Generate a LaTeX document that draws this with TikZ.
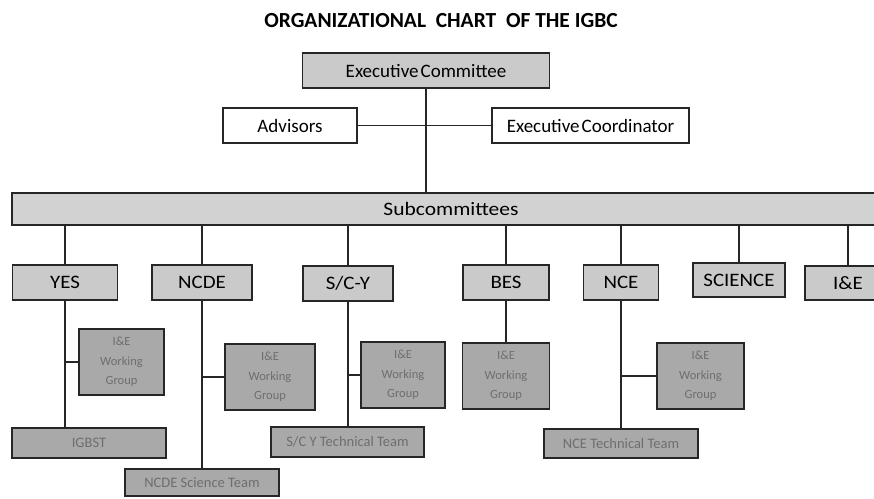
\documentclass[tikz,border=0pt]{standalone}
\usepackage{fontspec}
\setmainfont{Carlito}
\newfontfamily\wideA[FakeStretch=1.10]{Carlito}
\newfontfamily\wideB[FakeStretch=1.13]{Carlito}
\definecolor{ufill}{HTML}{CACACA}
\definecolor{sfill}{HTML}{D2D2D2}
\definecolor{lfill}{HTML}{A9A9A9}
\definecolor{ltext}{HTML}{6E6E6E}
\begin{document}
\begin{tikzpicture}[x=1pt,y=-1pt,
  ubox/.style={draw=black!85,line width=1.6pt,fill=ufill,inner sep=0pt,font=\wideA\fontsize{19}{21}\selectfont},
  wbox/.style={draw=black!85,line width=1.6pt,fill=white,inner sep=0pt,font=\fontsize{19}{21}\selectfont},
  lbox/.style={draw=black!85,line width=1.6pt,fill=lfill,inner sep=0pt,text=ltext,align=center,font=\fontsize{14.5}{18}\selectfont},
  wgbox/.style={lbox,font=\fontsize{12.5}{19.5}\selectfont},
  conn/.style={draw=black!85,line width=1.4pt}]
\useasboundingbox (0,0) rectangle (874,498);
\clip (0,0) rectangle (874,498);
\fill[white] (0,0) rectangle (874,498);
\node[font=\bfseries\fontsize{21.5}{23}\selectfont] (title) at (441,21) {ORGANIZATIONAL\ \ CHART\ \ OF THE IGBC};
\node[ubox,font=\fontsize{19}{21}\selectfont,minimum width=247pt,minimum height=35pt] (exec) at (426,70.5) {Executive\hspace{2pt}Committee};
\node[wbox,minimum width=134pt,minimum height=35pt] (adv) at (290,125.5) {Advisors};
\node[wbox,minimum width=197pt,minimum height=35pt] (coord) at (590.5,125.5) {Executive\hspace{2pt}Coordinator};
\node[ubox,fill=sfill,font=\wideB\fontsize{19}{21}\selectfont,minimum width=878pt,minimum height=32pt] (sub) at (451,209) {Subcommittees};
\node[ubox,minimum width=105pt,minimum height=35pt] (yes) at (65,282.5) {YES};
\node[ubox,minimum width=100pt,minimum height=35pt] (ncde) at (202,282.5) {NCDE};
\node[ubox,minimum width=90pt,minimum height=35pt] (scy) at (348,283.5) {S/C-Y};
\node[ubox,minimum width=86pt,minimum height=35pt] (bes) at (506,282.5) {BES};
\node[ubox,minimum width=75pt,minimum height=35pt] (nce) at (621,282.5) {NCE};
\node[ubox,minimum width=92pt,minimum height=34pt] (sci) at (739,280) {SCIENCE};
\node[ubox,minimum width=86pt,minimum height=34pt] (ie) at (848,283) {I\&E};
\node[wgbox,minimum width=85pt,minimum height=66pt] (wg1) at (121.5,362) {I\&E\\Working\\Group};
\node[lbox,minimum width=154pt,minimum height=30pt] (igbst) at (89,443) {IGBST};
\node[wgbox,minimum width=90pt,minimum height=66pt] (wg2) at (270,377) {I\&E\\Working\\Group};
\node[lbox,minimum width=154pt,minimum height=27pt] (ncdest) at (202,482.5) {NCDE Science Team};
\node[wgbox,minimum width=84pt,minimum height=66pt] (wg3) at (403,375) {I\&E\\Working\\Group};
\node[lbox,minimum width=153pt,minimum height=30pt] (scytt) at (347.5,442) {S/C Y Technical Team};
\node[wgbox,minimum width=87pt,minimum height=66pt] (beswg) at (506,376) {I\&E\\Working\\Group};
\node[wgbox,minimum width=87pt,minimum height=66pt] (ncewg) at (700.5,376) {I\&E\\Working\\Group};
\node[lbox,minimum width=154pt,minimum height=29pt] (ncett) at (621,443.5) {NCE Technical Team};
\draw[conn] (exec.south) -- (exec.south |- sub.north);
\draw[conn] (adv.east) -- (coord.west);
\foreach \n in {yes,ncde,scy,bes,nce,sci,ie}{
  \draw[conn] (sub.south -| \n.north) -- (\n.north);
}
\draw[conn] (yes.south) -- (yes.south |- igbst.north);
\draw[conn] (yes.south |- wg1.west) -- (wg1.west);
\draw[conn] (ncde.south) -- (ncde.south |- ncdest.north);
\draw[conn] (ncde.south |- wg2.west) -- (wg2.west);
\draw[conn] (scy.south) -- (scy.south |- scytt.north);
\draw[conn] (scy.south |- wg3.west) -- (wg3.west);
\draw[conn] (bes.south) -- (beswg.north);
\draw[conn] (nce.south) -- (nce.south |- ncett.north);
\draw[conn] (nce.south |- ncewg.west) -- (ncewg.west);
\end{tikzpicture}
\end{document}
